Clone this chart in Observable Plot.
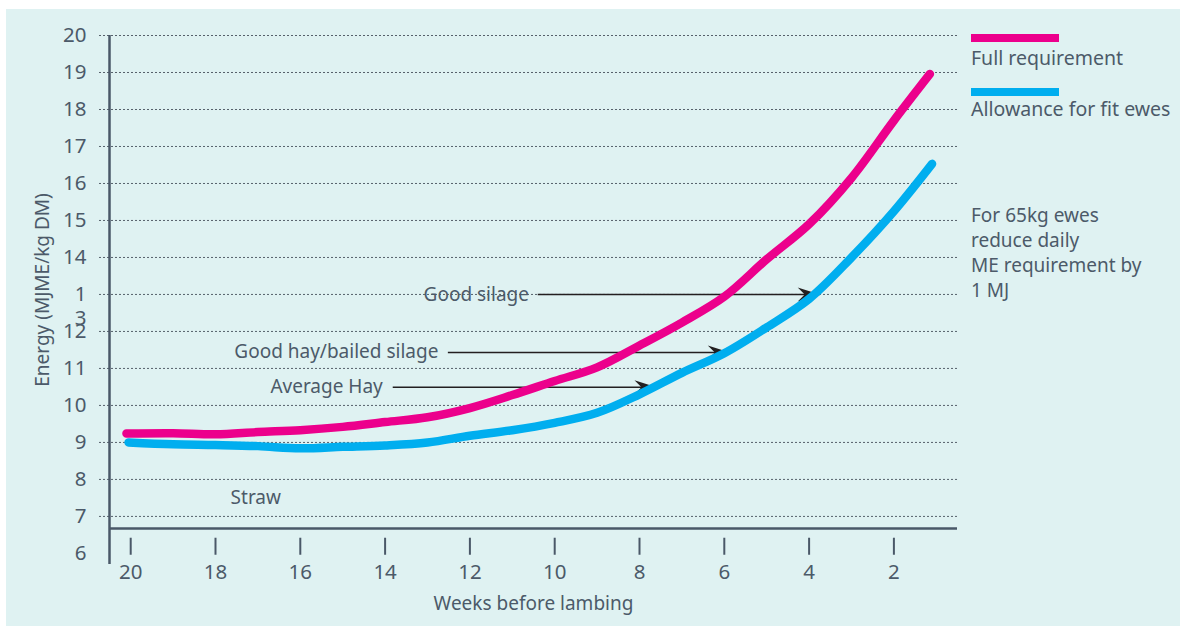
<!DOCTYPE html>
<html>
<head>
<meta charset="utf-8">
<script src="https://cdn.jsdelivr.net/npm/d3@7"></script>
<script src="https://cdn.jsdelivr.net/npm/@observablehq/plot@0.6"></script>
<style>
  html, body { margin: 0; padding: 0; background: #ffffff; }
  body { width: 1183px; height: 626px; position: relative; overflow: hidden; font-family: "Noto Sans", sans-serif; color: #4c5a69; }
  #panel { position: absolute; left: 6px; top: 9px; width: 1174px; height: 617px; background: #dff2f2; }
  #chart { position: absolute; left: 0; top: 0; }
  .bar { position: absolute; left: 971px; width: 88px; height: 8px; }
  .leg { position: absolute; left: 971px; font-size: 19.5px; line-height: 20px; white-space: nowrap; }
  #note { position: absolute; left: 971px; top: 203px; font-size: 19px; line-height: 25px; white-space: nowrap; }
</style>
</head>
<body>
<div id="panel"></div>
<div id="chart"></div>
<div class="bar" style="top:34px;background:#ec008c"></div>
<div class="leg" style="top:48px">Full requirement</div>
<div class="bar" style="top:88px;background:#00aeef"></div>
<div class="leg" style="top:99px">Allowance for fit ewes</div>
<div id="note">For 65kg ewes<br>reduce daily<br>ME requirement by<br>1 MJ</div>
<script>
// ---- data ----
const seriesNames = ["Full requirement", "Allowance for fit ewes"];
const seriesColors = ["#ec008c", "#00aeef"];

const weeksFull = [20.1, 19, 18, 17, 16, 15, 14, 13, 12, 11, 10, 9, 8, 7, 6, 5, 4, 3, 2, 1.15];
const energyFull = [9.24, 9.25, 9.22, 9.28, 9.33, 9.42, 9.55, 9.68, 9.93, 10.28, 10.66, 11.03, 11.62, 12.24, 12.94, 13.95, 14.9, 16.15, 17.7, 18.96];

const weeksFit = [20.05, 19, 18, 17, 16, 15, 14, 13, 12, 11, 10, 9, 8, 7, 6, 5, 4, 3, 2, 1.1];
const energyFit = [9.0, 8.95, 8.93, 8.9, 8.84, 8.88, 8.92, 9.0, 9.18, 9.33, 9.53, 9.8, 10.3, 10.88, 11.41, 12.11, 12.88, 14.0, 15.25, 16.53];

const xTicks = [20, 18, 16, 14, 12, 10, 8, 6, 4, 2];
const yTicks = [6, 7, 8, 9, 10, 11, 12, 13, 14, 15, 16, 17, 18, 19, 20];
const gridValues = [7, 8, 9, 10, 11, 12, 13, 14, 15, 16, 17, 18, 19, 20];

const feedLabels = ["Good silage", "Good hay/bailed silage", "Average Hay", "Straw"];
const feedLabelWeek = [11.85, 15.15, 15.38, 17.05];
const feedLabelEnergy = [13.0, 11.46, 10.49, 7.51];

const arrowFrom = [10.4, 12.52, 13.82];
const arrowTo = [3.75, 5.87, 7.6];
const arrowEnergy = [13.0, 11.43, 10.49];

const xLabel = "Weeks before lambing";
const yLabel = "Energy (MJME/kg DM)";

// ---- tables ----
const lines = [
  ...weeksFull.map((w, i) => ({week: w, energy: energyFull[i], series: seriesNames[0]})),
  ...weeksFit.map((w, i) => ({week: w, energy: energyFit[i], series: seriesNames[1]}))
];
const labels = feedLabels.map((t, i) => ({text: t, week: feedLabelWeek[i], energy: feedLabelEnergy[i]}));
const arrows = arrowFrom.map((a, i) => ({x1: a, x2: arrowTo[i], y: arrowEnergy[i]}));

const ink = "#4c5a69";
const axisInk = "#4a5868";
const arrowHead = {
  draw(context) {
    context.moveTo(0, 0);
    context.lineTo(-22, -7);
    context.lineTo(-15, 0);
    context.lineTo(-22, 7);
    context.closePath();
  }
};

const chart = Plot.plot({
  width: 1183,
  height: 626,
  marginLeft: 109,
  marginRight: 226,
  marginTop: 35,
  marginBottom: 62,
  x: {domain: [20.5, 0.5]},
  y: {domain: [5.7, 20]},
  color: {domain: seriesNames, range: seriesColors},
  style: {background: "transparent", fontFamily: "Noto Sans", fontSize: "19px", color: ink, overflow: "visible"},
  marks: [
    Plot.ruleY(gridValues, {stroke: "#56616b", strokeDasharray: "2,2", strokeWidth: 1, insetLeft: -10}),
    Plot.ruleY([6.67], {stroke: axisInk, strokeWidth: 2.5}),
    Plot.ruleX([20.5], {y1: 5.7, y2: 20, stroke: axisInk, strokeWidth: 2.5}),
    Plot.ruleX(xTicks, {y1: 5.95, y2: 6.41, stroke: axisInk, strokeWidth: 2}),
    Plot.axisY({ticks: yTicks, tickSize: 0, tickPadding: 23, tickFormat: d => d === 13 ? "1" : String(d), label: null, fill: ink, fontSize: 20.5}),
    Plot.text(["3"], {y: [12.35], frameAnchor: "left", dx: -23, textAnchor: "end", fill: ink, fontSize: 20.5}),
    Plot.axisX({ticks: xTicks, tickSize: 0, tickPadding: 0, label: null, fill: ink, fontSize: 20.5}),
    Plot.text([xLabel], {frameAnchor: "bottom", lineAnchor: "middle", dy: 39, fill: ink}),
    Plot.text([yLabel], {frameAnchor: "left", textAnchor: "middle", lineAnchor: "middle", rotate: -90, dx: -67, dy: -10, fill: ink}),
    Plot.text(labels, {x: "week", y: "energy", text: "text", fill: ink}),
    Plot.link(arrows, {x1: "x1", x2: "x2", y1: "y", y2: "y", stroke: "#231f20", strokeWidth: 1.5}),
    Plot.dot(arrows, {x: "x2", y: "y", symbol: arrowHead, r: 5, fill: "#231f20", stroke: null}),
    Plot.line(lines, {x: "week", y: "energy", z: "series", stroke: "series", strokeWidth: 8.5, curve: "catmull-rom"})
  ]
});
document.getElementById("chart").appendChild(chart);
</script>
</body>
</html>
